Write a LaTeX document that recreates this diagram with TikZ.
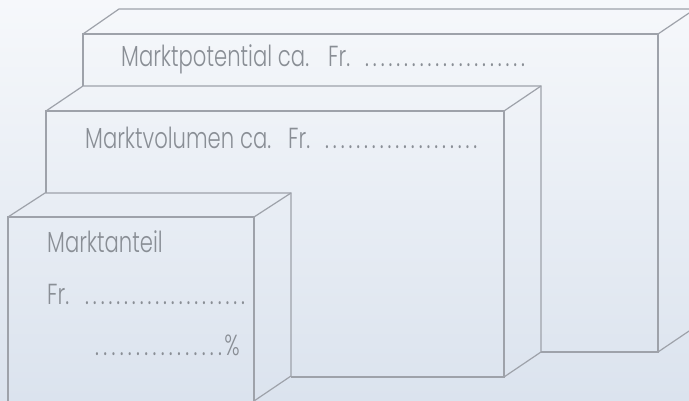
\documentclass[tikz,border=0pt]{standalone}
\usepackage{fontspec}
\setmainfont{Poppins}[UprightFont=* Light, FakeStretch=0.73]
\definecolor{bgtop}{HTML}{F6F8FB}
\definecolor{bgbot}{HTML}{DBE3EE}
\definecolor{edge}{HTML}{9EA2AA}
\definecolor{txt}{HTML}{898E95}
\newcommand\ldts[2][7.8pt]{\foreach \i in {1,...,#2}{\makebox[#1][l]{.}}}
\tikzset{
  boxline/.style={draw=edge, line width=1.2pt, line join=miter},
  lbl/.style={anchor=base west, inner sep=0pt, text=txt, font=\fontsize{29}{34}\selectfont}
}
\begin{document}
\begin{tikzpicture}
\shade[top color=bgtop, bottom color=bgbot] (0,0) rectangle (689pt,400pt);
\useasboundingbox (0,0) rectangle (689pt,400pt);
\clip (0,0) rectangle (689pt,400pt);
\begin{scope}[yshift=400pt, x=1pt, y=-1pt]
% big box
\draw[boxline] (83,86) -- (83,34) -- (658,34) -- (658,352) -- (541,352);
\draw[boxline] (83,34) -- (119,9) -- (700,9);
\draw[boxline] (658,34) -- (695,9);
\draw[boxline] (658,352) -- (695,327);
% middle box
\draw[boxline] (46,193) -- (46,111) -- (504,111) -- (504,377) -- (291,377);
\draw[boxline] (46,111) -- (83,86) -- (541,86) -- (541,352) -- (504,377);
\draw[boxline] (504,111) -- (541,86);
% small box
\draw[boxline] (8,410) -- (8,217) -- (254,217) -- (254,410);
\draw[boxline] (8,217) -- (45,193) -- (291,193) -- (291,376) -- (254,401);
\draw[boxline] (254,217) -- (291,193);
% texts
\node[lbl] (t1) at (121,67) {\makebox[207pt][l]{Marktpotential ca.}\makebox[37pt][l]{Fr.}\ldts{21}};
\node[lbl] (t2) at (85,148) {\makebox[203pt][l]{Marktvolumen ca.}\makebox[37pt][l]{Fr.}\ldts{20}};
\node[lbl] (t3) at (47,252) {Marktanteil};
\node[lbl] (t4) at (47,304) {\makebox[38pt][l]{Fr.}\ldts{21}};
\node[lbl] (t5) at (95,355) {\ldts[8.2pt]{16}\hspace{-2pt}\%};
\end{scope}
\end{tikzpicture}
\end{document}
